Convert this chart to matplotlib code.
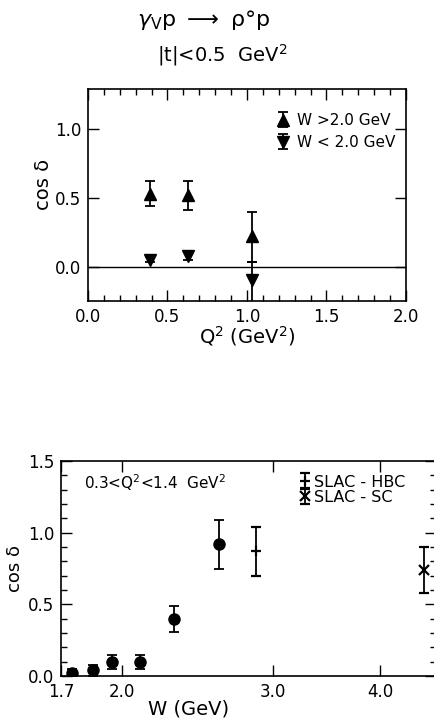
import matplotlib
matplotlib.use("Agg")
from matplotlib import pyplot as plt
from matplotlib.ticker import MultipleLocator, NullLocator, FixedLocator
import numpy as np

plt.rcParams['font.family'] = ['DejaVu Sans']
plt.rcParams['mathtext.fontset'] = 'dejavusans'

# cos(delta) vs Q^2, |t| < 0.5 GeV^2
q2_hi = [0.39, 0.63, 1.03]
cos_hi = [0.53, 0.52, 0.22]
cos_hi_lo = [0.44, 0.41, 0.03]
cos_hi_up = [0.62, 0.62, 0.40]

q2_lo = [0.39, 0.63, 1.03]
cos_lo = [0.05, 0.08, -0.10]
cos_lo_lo = [0.03, 0.05, -0.30]
cos_lo_up = [0.07, 0.11, 0.03]

# cos(delta) vs W, 0.3 < Q^2 < 1.4 GeV^2
w_vals = [1.75, 1.85, 1.95, 2.1, 2.3, 2.6]
cos_w = [0.02, 0.04, 0.10, 0.10, 0.40, 0.92]
cos_w_err = [0.03, 0.04, 0.05, 0.05, 0.09, 0.17]

w_hbc = [2.87]
cos_hbc = [0.87]
cos_hbc_err = [0.17]

w_sc = [4.5]
cos_sc = [0.74]
cos_sc_err = [0.16]

W_PX, H_PX = 435, 725
fig = plt.figure(figsize=(W_PX / 100, H_PX / 100), dpi=100)


def px_axes(left, top, right, bottom):
  return fig.add_axes([left / W_PX, 1 - bottom / H_PX,
                       (right - left) / W_PX, (bottom - top) / H_PX])


def asym(y, lo, up):
  y = np.array(y)
  return [y - np.array(lo), np.array(up) - y]


def one_decimal(v, pos):
  return f"{v:.1f}"


ebkw = dict(color='black', ecolor='black', elinewidth=1.3, capsize=3.5,
            capthick=1.3, linestyle='none')

# ---- top panel ----
ax1 = px_axes(88, 89, 406, 301)
ax1.axhline(0.0, color='black', lw=1.0)
h_hi = ax1.errorbar(q2_hi, cos_hi, yerr=asym(cos_hi, cos_hi_lo, cos_hi_up),
                    marker='^', markersize=9, label='W >2.0 GeV', **ebkw)
h_lo = ax1.errorbar(q2_lo, cos_lo, yerr=asym(cos_lo, cos_lo_lo, cos_lo_up),
                    marker='v', markersize=9, label='W < 2.0 GeV', **ebkw)
ax1.set_xlim(0.0, 2.0)
ax1.set_ylim(-0.25, 1.29)
ax1.xaxis.set_major_locator(MultipleLocator(0.5))
ax1.xaxis.set_minor_locator(MultipleLocator(0.1))
ax1.yaxis.set_major_locator(FixedLocator([0.0, 0.5, 1.0]))
ax1.xaxis.set_major_formatter(plt.FuncFormatter(one_decimal))
ax1.yaxis.set_major_formatter(plt.FuncFormatter(one_decimal))
ax1.set_xlabel("Q$^2$ (GeV$^2$)", fontsize=14)
ax1.xaxis.set_label_coords(0.5, -0.11)
ax1.set_ylabel("cos δ", fontsize=14)
ax1.yaxis.set_label_coords(-0.11, 0.55)
ax1.legend(handles=[h_hi, h_lo], loc='upper left', bbox_to_anchor=(0.575, 0.915),
           frameon=False, fontsize=11, handlelength=0.8, handletextpad=0.5,
           borderaxespad=0.0, labelspacing=0.45)

# ---- bottom panel ----
ax2 = px_axes(61, 461, 436, 676)
ax2.errorbar(w_vals, cos_w, yerr=cos_w_err, marker='o', markersize=8, **ebkw)
h_hbc = ax2.errorbar(w_hbc, cos_hbc, yerr=cos_hbc_err, marker='+',
                     markersize=7, markeredgewidth=1.6, label='SLAC - HBC', **ebkw)
h_sc = ax2.errorbar(w_sc, cos_sc, yerr=cos_sc_err, marker='x',
                    markersize=7, markeredgewidth=1.6, label='SLAC - SC', **ebkw)
ax2.set_xscale('log')
ax2.set_xlim(1.7, 4.65)
ax2.set_ylim(0.0, 1.5)
ax2.xaxis.set_major_locator(FixedLocator([1.7, 2.0, 3.0, 4.0]))
ax2.xaxis.set_minor_locator(NullLocator())
ax2.xaxis.set_major_formatter(plt.FuncFormatter(one_decimal))
ax2.yaxis.set_major_locator(MultipleLocator(0.5))
ax2.yaxis.set_minor_locator(MultipleLocator(0.1))
ax2.yaxis.set_major_formatter(plt.FuncFormatter(one_decimal))
ax2.set_xlabel("W (GeV)", fontsize=14)
ax2.xaxis.set_label_coords(0.34, -0.11)
ax2.set_ylabel("cos δ", fontsize=13)
ax2.yaxis.set_label_coords(-0.099, 0.5)
ax2.text(0.06, 0.9, "0.3<Q$^2$<1.4  GeV$^2$", transform=ax2.transAxes,
         fontsize=11, va='center', ha='left')
ax2.legend(handles=[h_hbc, h_sc], loc='upper left', bbox_to_anchor=(0.62, 0.965),
           frameon=False, fontsize=11.5, handlelength=0.6, handletextpad=0.3,
           borderaxespad=0.0, labelspacing=0.0)

for ax in (ax1, ax2):
  ax.tick_params(which='both', direction='in', top=True, right=True,
                 labelsize=12, width=1.0, pad=5)
  ax.tick_params(which='major', length=8)
  ax.tick_params(which='minor', length=4)
  for s in ax.spines.values():
    s.set_linewidth(1.2)

# reaction header
fig.text(204 / W_PX, 1 - 20 / H_PX,
         r"$\gamma_{\rm V}$p $\longrightarrow$ ρ°p", fontsize=16,
         ha='center', va='center')
fig.text(222 / W_PX, 1 - 55 / H_PX, "|t|<0.5  GeV$^2$", fontsize=14,
         ha='center', va='center')

fig.savefig("out.png", dpi=100)
